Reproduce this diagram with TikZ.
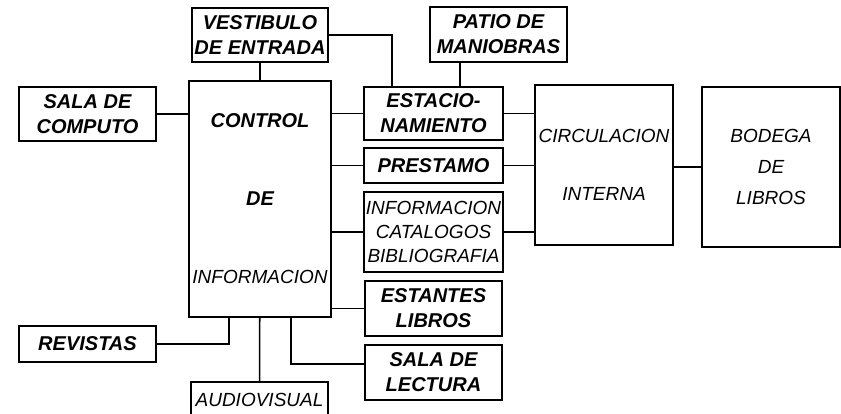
\documentclass[tikz,border=0pt]{standalone}
\usepackage{fontspec}
\setmainfont{Liberation Sans}

\begin{document}
\begin{tikzpicture}[x=1pt,y=-1pt,
  caja/.style={rectangle,draw,line width=1.6pt,inner sep=0pt,align=center,
    font=\fontsize{20}{25}\selectfont\bfseries\itshape},
  cajafina/.style={caja,font=\fontsize{19}{22}\selectfont\mdseries\itshape},
  liga/.style={line width=1.6pt}]
\path[fill=white,use as bounding box] (0,0) rectangle (841,413);
      \node [caja,minimum width=136,minimum height=54] at (260,35) (vestibulo) {VESTIBULO\\DE ENTRADA};
       \node [caja,minimum width=137,minimum height=55] at (498.5,34.5) (patio) {PATIO DE\\MANIOBRAS};
        \node [caja,minimum width=137,minimum height=54] at (87.5,114) (computo) {SALA DE\\COMPUTO};
         \node [caja,minimum width=142,minimum height=236] at (260,199) (control) {CONTROL\\[53pt]DE\\[53pt]{\fontsize{19}{22}\selectfont\mdseries INFORMACION}};
          \node [caja,minimum width=139,minimum height=53] at (433.5,113.5) (estac) {ESTACIO-\\NAMIENTO};
           \node [caja,minimum width=139,minimum height=35] at (433.5,165.5) (prestamo) {PRESTAMO};
            \node [cajafina,minimum width=139,minimum height=80,font=\fontsize{19}{24}\selectfont\mdseries\itshape] at (433.5,232) (catalogos) {INFORMACION\\CATALOGOS\\BIBLIOGRAFIA};
             \node [caja,minimum width=137,minimum height=55] at (433.5,308.5) (estantes) {ESTANTES\\LIBROS};
              \node [caja,minimum width=137,minimum height=55] at (433.5,372.5) (lectura) {SALA DE\\LECTURA};
               \node [cajafina,minimum width=138,minimum height=160] at (604,165) (circ) {CIRCULACION\\[36pt]INTERNA};
                \node [cajafina,minimum width=138,minimum height=160] at (771,167) (bodega) {BODEGA\\[9pt]DE\\[9pt]LIBROS};
                 \node [caja,minimum width=137,minimum height=36] at (87.5,344) (revistas) {REVISTAS};
                  \node [cajafina,minimum width=137,minimum height=36] at (259.5,400) (audio) {AUDIOVISUAL};
%
\coordinate (estac top) at (392,87);
\coordinate (patio pie) at (460,87);
\coordinate (rev pie) at (229,317);
\coordinate (lec pie) at (291,317);
\coordinate (lec lado) at (365,364);
%
\path[liga] (vestibulo) edge (control);
\path[liga] (control) edge (audio);
\draw[liga] (vestibulo.east) -| (estac top);
\draw[liga] (patio.south -| patio pie) -- (patio pie);
\path[liga] (computo) edge (computo -| control.west);
\path[liga] (estac.west -| control.east) edge (estac.west);
\path[liga] (prestamo.west -| control.east) edge (prestamo.west);
\path[liga] (catalogos.west -| control.east) edge (catalogos.west);
\path[liga] (estantes.west -| control.east) edge (estantes.west);
\path[liga] (estac.east) edge (estac.east -| circ.west);
\path[liga] (prestamo.east) edge (prestamo.east -| circ.west);
\path[liga] (catalogos.east) edge (catalogos.east -| circ.west);
\path[liga] (circ.east |- bodega.west) edge (bodega.west);
\draw[liga] (revistas.east) -| (rev pie);
\draw[liga] (lec pie) |- (lec lado);

\end{tikzpicture}
\end{document}
